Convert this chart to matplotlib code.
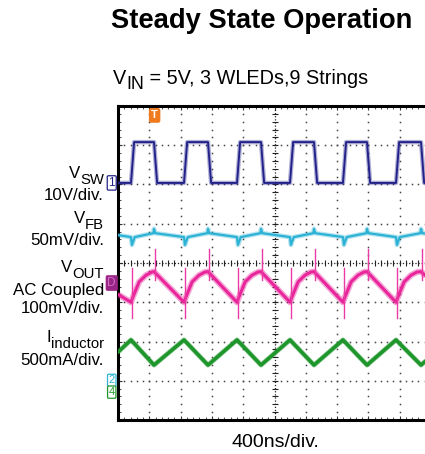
import matplotlib
matplotlib.use("Agg")
import matplotlib.pyplot as plt
import numpy as np

plt.rcParams['font.family'] = ['Liberation Sans', 'DejaVu Sans']

# ---------------- data (screen divisions: x 0..10, y 0..8) ----------------
rise_edges = [0.415, 2.109, 3.802, 5.495, 7.188, 8.882]
fall_edges = [1.150, 2.875, 4.569, 6.262, 7.955, 9.681]
edge_width = 0.10

vsw_low, vsw_high = 6.04, 7.08

vfb_start, vfb_end = 4.71, 4.73
vfb_base, vfb_dip, vfb_top, vfb_spike = 4.66, 4.46, 4.76, 4.87

vout_start, vout_end = 3.20, 3.55
vout_rise_dt = [0.0, 0.06, 0.26, 0.48, 0.67]
vout_rise_y = [3.00, 3.13, 3.52, 3.69, 3.77]
vout_peak = 3.78
vout_spike_rise = [2.60, 3.87]
vout_spike_fall = [3.57, 4.36]

il_start, il_end = 1.73, 1.62
il_peak, il_trough = 2.04, 1.40

label_names = [("V", "SW"), ("V", "FB"), ("V", "OUT"), ("I", "inductor")]
label_scales = ["10V/div.", "50mV/div.", "AC Coupled", "100mV/div.", "500mA/div."]

# ---------------- build polylines ----------------
vsw_x, vsw_y = [0.0], [vsw_low]
for r, f in zip(rise_edges, fall_edges):
    vsw_x += [r, r + edge_width, f, f + edge_width]
    vsw_y += [vsw_low, vsw_high, vsw_high, vsw_low]
vsw_x.append(10.0); vsw_y.append(vsw_low)

vfb_x, vfb_y = [0.0], [vfb_start]
for r, f in zip(rise_edges, fall_edges):
    vfb_x += [r, r + 0.03, r + 0.12, f - 0.02, f, f + 0.04]
    vfb_y += [vfb_base, vfb_dip, vfb_base, vfb_top, vfb_spike, vfb_top]
vfb_x.append(10.0); vfb_y.append(vfb_end)

vout_x, vout_y = [0.0], [vout_start]
for r, f in zip(rise_edges, fall_edges):
    vout_x += [r + d for d in vout_rise_dt] + [f]
    vout_y += vout_rise_y + [vout_peak]
vout_x.append(10.0); vout_y.append(vout_end)

il_x, il_y = [0.0], [il_start]
for r, f in zip(rise_edges, fall_edges):
    il_x += [r, f]
    il_y += [il_peak, il_trough]
il_x.append(10.0); il_y.append(il_end)

# ---------------- figure ----------------
W, H = 425, 454
fig = plt.figure(figsize=(W / 100, H / 100), dpi=100)
renderer = fig.canvas.get_renderer()
ax_l, ax_t, ax_b = 118, 106, 420
div_px = 31.3
ax = fig.add_axes([ax_l / W, 1 - ax_b / H, 10 * div_px / W, (ax_b - ax_t) / H])
ax.set_xlim(0, 10)
ax.set_ylim(0, 8)

# grid dots
dot_pos = np.arange(0, 10.01, 0.2)
dot_pos_y = np.arange(0, 8.01, 0.2)
for gx in range(1, 10):
    if gx == 5:
        continue
    ax.plot([gx] * len(dot_pos_y), dot_pos_y, ls='none', marker='s', ms=1.1,
            color='#444444', mew=0)
for gy in range(1, 8):
    if gy == 4:
        continue
    ax.plot(dot_pos, [gy] * len(dot_pos), ls='none', marker='s', ms=1.1,
            color='#444444', mew=0)
# centre lines
ax.plot([5, 5], [0, 8], ls=(0, (1, 1.5)), lw=0.9, color='#222222')
ax.plot([0, 10], [4, 4], ls=(0, (1, 1.5)), lw=0.9, color='#222222')
ax.plot([5] * len(dot_pos_y), dot_pos_y, ls='none', marker='_', ms=4, mew=0.8,
        color='#222222')
ax.plot(dot_pos, [4] * len(dot_pos), ls='none', marker='|', ms=4, mew=0.8,
        color='#222222')

# traces: soft halo + core
def trace(x, y, color, core, halo, halo_alpha=0.35):
    ax.plot(x, y, color=color, lw=halo, alpha=halo_alpha, solid_joinstyle='round',
            solid_capstyle='butt', zorder=3)
    ax.plot(x, y, color=color, lw=core, solid_joinstyle='round', zorder=4)

trace(vsw_x, vsw_y, '#22228a', 1.4, 3.2)
trace(vfb_x, vfb_y, '#2cb2d4', 1.6, 3.4)
trace(vout_x, vout_y, '#e8259a', 2.2, 4.4, 0.4)
for r in rise_edges:
    ax.plot([r + 0.02, r + 0.02], vout_spike_rise, color='#ec3aa5', lw=1.0, zorder=4)
for f in fall_edges:
    ax.plot([f + 0.02, f + 0.02], vout_spike_fall, color='#ec3aa5', lw=1.0, zorder=4)
trace(il_x, il_y, '#1f962c', 2.6, 3.6, 0.4)

# spines & ticks
for s in ax.spines.values():
    s.set_linewidth(2.2)
    s.set_color('black')
ax.set_xticks(np.arange(0, 10.01, 1))
ax.set_yticks(np.arange(0, 8.01, 1))
ax.set_xticks(dot_pos, minor=True)
ax.set_yticks(dot_pos_y, minor=True)
ax.tick_params(which='both', direction='in', top=True, right=True,
               labelbottom=False, labelleft=False, color='#333333')
ax.tick_params(which='major', length=3, width=0.8)
ax.tick_params(which='minor', length=2.5, width=0.6)

# channel markers
def marker(y, txt, edge, face, tcolor, fs=8.5):
    ax.text(-0.2, y, txt, ha='center', va='center', fontsize=fs, color=tcolor,
            clip_on=False, zorder=6,
            bbox=dict(boxstyle='round,pad=0.1', fc=face, ec=edge, lw=0.9))

marker(vsw_low, "1", '#22228a', 'white', '#22228a')
marker(3.49, "D", '#9a2586', '#9a2586', '#d070c0')
marker(1.01, "2", '#2cb2d4', 'white', '#2cb2d4', 8)
marker(0.71, "4", '#1f962c', 'white', '#1f962c', 8)
ax.text(fall_edges[0] + 0.02, 7.76, "T", ha='center', va='center', fontsize=8,
        color='white', fontweight='bold', clip_on=False, zorder=6,
        bbox=dict(boxstyle='round,pad=0.15', fc='#f07a1e', ec='#f07a1e'))

# texts (pixel positions from top-left)
def ftext(xpx, ypx, s, **kw):
    return fig.text(xpx / W, 1 - ypx / H, s, **kw)

def width_px(t):
    return t.get_window_extent(renderer).width

ftext(262, 28, "Steady State Operation", ha='center', va='baseline',
      fontsize=19.7, fontweight='bold')

# subtitle with manual subscript
sub_fs = 14.3
t1 = ftext(113, 84, "V", ha='left', va='baseline', fontsize=sub_fs)
x2 = 113 + width_px(t1)
t2 = ftext(x2, 89, "IN", ha='left', va='baseline', fontsize=sub_fs * 0.9)
x3 = x2 + width_px(t2)
ftext(x3, 84, " = 5V, 3 WLEDs,9 Strings", ha='left', va='baseline', fontsize=sub_fs)

ftext(275, 447, "400ns/div.", ha='center', va='baseline', fontsize=14)

lab_x = 104
lab_fs = 12.2

def name_label(base_px, main, sub):
    ts = ftext(lab_x, base_px + 6, sub, ha='right', va='baseline',
               fontsize=lab_fs * 0.88)
    ftext(lab_x - width_px(ts), base_px, main, ha='right', va='baseline',
          fontsize=lab_fs)

name_label(178, *label_names[0])
ftext(lab_x, 200, label_scales[0], ha='right', va='baseline', fontsize=lab_fs)
name_label(223, *label_names[1])
ftext(lab_x, 245, label_scales[1], ha='right', va='baseline', fontsize=lab_fs)
name_label(272, *label_names[2])
ftext(lab_x, 295, label_scales[2], ha='right', va='baseline', fontsize=lab_fs)
ftext(lab_x, 313, label_scales[3], ha='right', va='baseline', fontsize=lab_fs)
name_label(342, *label_names[3])
ftext(lab_x, 365, label_scales[4], ha='right', va='baseline', fontsize=lab_fs)

fig.savefig("out.png", dpi=100)
